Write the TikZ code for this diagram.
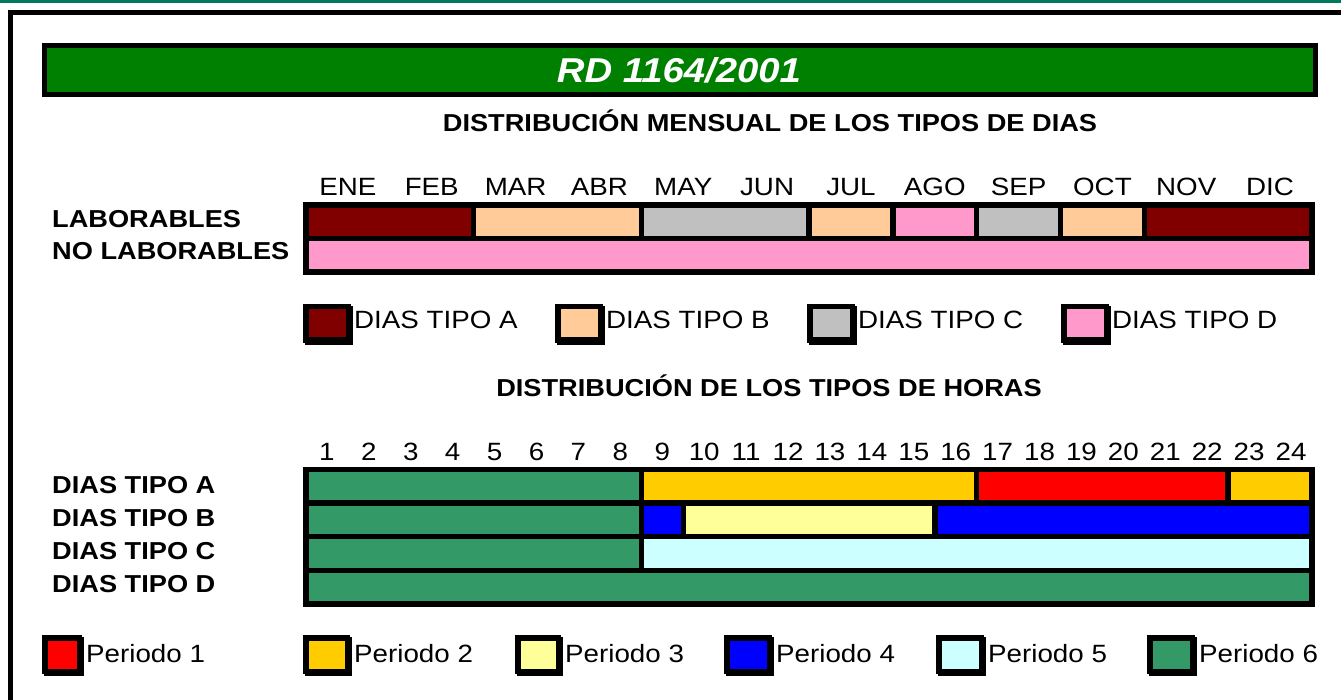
\documentclass[tikz,border=0pt]{standalone}
\usepackage{fontspec}
\setmainfont[FakeStretch=1.11]{Liberation Sans}
\definecolor{topteal}{RGB}{0,122,94}
\definecolor{titlegreen}{HTML}{008000}
\definecolor{tipoA}{HTML}{800000}
\definecolor{tipoB}{HTML}{FFCC99}
\definecolor{tipoC}{HTML}{C0C0C0}
\definecolor{tipoD}{HTML}{FF99CC}
\definecolor{pA}{HTML}{FF0000}
\definecolor{pB}{HTML}{FFCC00}
\definecolor{pC}{HTML}{FFFF99}
\definecolor{pD}{HTML}{0000FF}
\definecolor{pE}{HTML}{CCFFFF}
\definecolor{pF}{HTML}{339966}
\begin{document}
\begin{tikzpicture}[x=1pt,y=-1pt,
  cell/.style={draw=black,line width=5.5pt},
  lbl/.style={anchor=base,inner sep=0pt,font=\fontsize{25}{29}\selectfont},
  lblw/.style={anchor=base west,inner sep=0pt,font=\fontsize{25}{29}\selectfont},
  boldlbl/.style={anchor=base west,inner sep=0pt,font=\fontsize{24.5}{29}\selectfont\bfseries},
  header/.style={anchor=base,inner sep=0pt,font=\fontsize{24.5}{29}\selectfont\bfseries},
  legsq/.style={draw=black,line width=5.5pt}]
\useasboundingbox (0,0) rectangle (1341,700);
% top teal line and frame
\fill[topteal] (0,0.5) rectangle (1341,3);
\draw[line width=5pt] (10.8,710) -- (10.8,12.5) -- (1350,12.5);
% title bar
\draw[cell,fill=titlegreen] (44.5,45.5) rectangle (1315.5,94.5);
\node[anchor=base,inner sep=0pt,text=white,font=\fontsize{34.5}{40}\selectfont\bfseries\itshape] (title) at (679,83) {RD 1164/2001};
\node[header] (h1) at (770,132) {DISTRIBUCIÓN MENSUAL DE LOS TIPOS DE DIAS};
% month labels
\foreach \m [count=\i from 0] in {ENE,FEB,MAR,ABR,MAY,JUN,JUL,AGO,SEP,OCT,NOV,DIC}
  \node[lbl] (m\i) at ({306+83.833*(\i+0.5)},196) {\m};
% month bar
\foreach \a/\b/\c in {0/2/tipoA,2/4/tipoB,4/6/tipoC,6/7/tipoB,7/8/tipoD,8/9/tipoC,9/10/tipoB,10/12/tipoA}
  \draw[cell,fill=\c] ({306+83.833*\a},205) rectangle ({306+83.833*\b},238.5);
\draw[cell,fill=tipoD] (306,238.5) rectangle (1312,272);
\node[boldlbl] (lab) at (52,228) {LABORABLES};
\node[boldlbl] (nolab) at (52,260) {NO LABORABLES};
% legend 1
\foreach \x/\c/\t [count=\i] in {303/tipoA/A,555/tipoB/B,807/tipoC/C,1061/tipoD/D}{
  \fill[black] ({\x+2},306) rectangle ({\x+50},345);
  \draw[legsq,fill=\c] ({\x+2.75},306.75) rectangle ({\x+45.25},340.25);
  \node[lblw] (leg\i) at ({\x+51},329) {DIAS TIPO \t};
}
\node[header] (h2) at (769,396) {DISTRIBUCIÓN DE LOS TIPOS DE HORAS};
% hour labels
\foreach \i in {1,...,24}
  \node[lbl] (hr\i) at ({306+41.9167*(\i-0.5)},460) {\i};
% hour bars
\foreach \a/\b/\c/\ya/\yb in {0/8/pF/469.5/503,8/16/pB/469.5/503,16/22/pA/469.5/503,22/24/pB/469.5/503,
  0/8/pF/503/536.5,8/9/pD/503/536.5,9/15/pC/503/536.5,15/24/pD/503/536.5,
  0/8/pF/536.5/570.5,8/24/pE/536.5/570.5,
  0/24/pF/570.5/604}
  \draw[cell,fill=\c] ({306+41.9167*\a},\ya) rectangle ({306+41.9167*\b},\yb);
\node[boldlbl] (da) at (52,493) {DIAS TIPO A};
\node[boldlbl] (db) at (52,526) {DIAS TIPO B};
\node[boldlbl] (dc) at (52,559.5) {DIAS TIPO C};
\node[boldlbl] (dd) at (52,592.5) {DIAS TIPO D};
% legend 2
\foreach \x/\w/\c [count=\i] in {42/40/pA,303/47/pB,515/46/pC,724/48/pD,936/48/pE,1147/48/pF}{
  \fill[black] ({\x+2},637) rectangle ({\x+\w+2},676);
  \draw[legsq,fill=\c] ({\x+2.75},637.75) rectangle ({\x+\w-2.75},671.25);
  \node[lblw] (per\i) at ({\x+\w+4},662) {Periodo \i};
}
\end{tikzpicture}
\end{document}
